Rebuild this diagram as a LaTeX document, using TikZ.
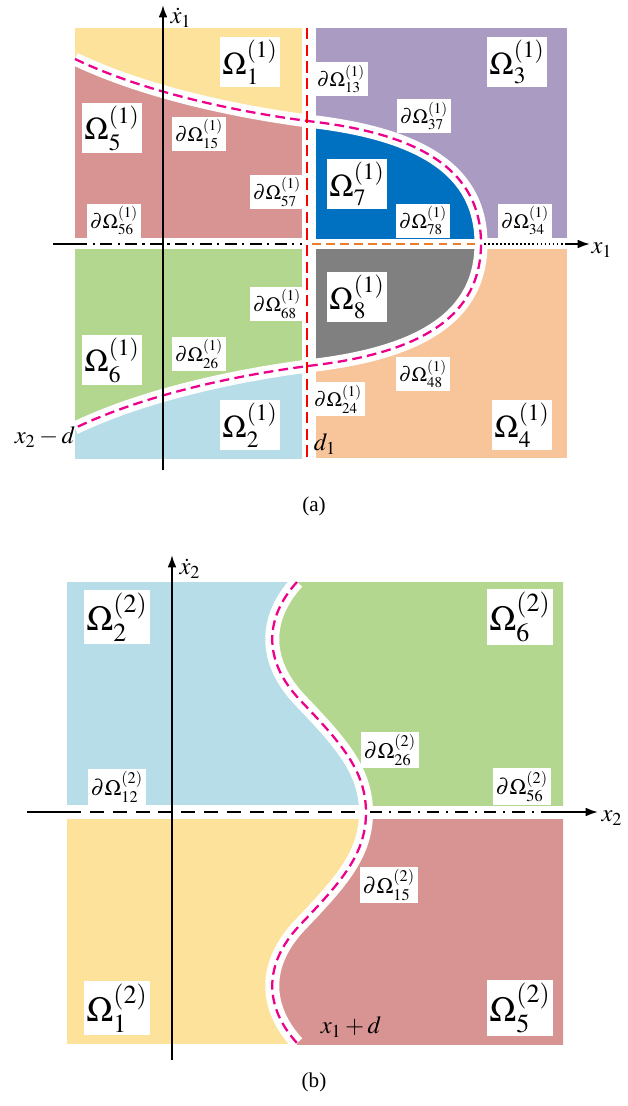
\documentclass[tikz,border=0pt]{standalone}
\usepackage{mathptmx}
\usepackage{fontspec}
\setmainfont{Liberation Serif}
\usetikzlibrary{arrows.meta}

\definecolor{omyellow}{RGB}{253,226,155}
\definecolor{omred}{RGB}{216,148,146}
\definecolor{ompurple}{RGB}{170,155,194}
\definecolor{omblue}{RGB}{0,112,192}
\definecolor{omgrey}{RGB}{128,128,128}
\definecolor{ompeach}{RGB}{248,196,154}
\definecolor{omgreen}{RGB}{179,215,143}
\definecolor{omcyan}{RGB}{183,221,232}
\definecolor{bdorange}{RGB}{235,125,45}

\begin{document}
\begin{tikzpicture}[x=0.02cm,y=-0.02cm,
  omg/.style={fill=white,inner sep=1.5pt,font=\fontsize{18}{20}\selectfont},
  omgb/.style={omg,font=\fontsize{20}{22}\selectfont},
  bdy/.style={fill=white,inner sep=1.5pt,font=\fontsize{11.5}{13}\selectfont},
  bdyb/.style={bdy,font=\fontsize{12.5}{14}\selectfont},
  band/.style={white,line width=0.26cm},
  sepline/.style={magenta,line width=1.3pt,dash pattern=on 5.5pt off 3pt},
  axis/.style={line width=1.1pt,-{Latex[length=7pt,width=5pt]}},
  axtxt/.style={font=\fontsize{14}{16}\selectfont},
  dashdot/.style={line width=1.1pt,dash pattern=on 7pt off 3pt on 1.2pt off 3pt}
]
\useasboundingbox (0,0) rectangle (628,1106);

% (a)
\fill[omred] (75,28) rectangle (302,238);
\begin{scope}
  \clip (75,28) rectangle (302,238);
  \fill[omyellow] (75,20) -- (75,59) .. controls (150,95) and (250,114) .. (316,122) -- (316,20) -- cycle;
\end{scope}
\fill[ompurple] (316,28) rectangle (567,238);
\begin{scope}
  \clip (316,28) rectangle (567,238);
  \fill[omblue] (316,122) .. controls (420,135) and (481,170) .. (481,243.5) -- (316,243.5) -- cycle;
\end{scope}
\fill[omgreen] (75,249) rectangle (302,458);
\begin{scope}
  \clip (75,249) rectangle (302,458);
  \fill[omcyan] (75,470) -- (75,428) .. controls (150,392) and (250,373) .. (316,365) -- (316,470) -- cycle;
\end{scope}
\fill[ompeach] (316,249) rectangle (567,458);
\begin{scope}
  \clip (316,249) rectangle (567,458);
  \fill[omgrey] (316,365) .. controls (420,352) and (481,317) .. (481,243.5) -- (316,243.5) -- cycle;
\end{scope}

\draw[band] (75,59) .. controls (150,95) and (250,114) .. (316,122)
  .. controls (420,135) and (481,170) .. (481,243.5)
  .. controls (481,317) and (420,352) .. (316,365)
  .. controls (250,373) and (150,392) .. (75,428);
\draw[sepline] (75,59) .. controls (150,95) and (250,114) .. (316,122)
  .. controls (420,135) and (481,170) .. (481,243.5)
  .. controls (481,317) and (420,352) .. (316,365)
  .. controls (250,373) and (150,392) .. (75,428);
\draw[red,line width=1.2pt,dash pattern=on 6.5pt off 3pt] (307,28) -- (307,458);

\draw[line width=1.1pt] (53,244) -- (75,244);
\draw[dashdot] (75,244) -- (302,244);
\draw[bdorange,line width=1.1pt,dash pattern=on 5pt off 3pt] (312,244) -- (478,244);
\draw[line width=1.1pt,dash pattern=on 1pt off 1.3pt] (484,244) -- (567,244);
\draw[axis] (567,244) -- (590,244);
\draw[axis] (163,470) -- (163,5);

\node[axtxt] (xd1) at (181,18) {$\dot{x}_1$};
\node[axtxt] (x1) at (602,250) {$x_1$};
\node[axtxt] (d1) at (325,444) {$d_1$};
\node[axtxt] (x2d) at (45,437) {$x_2-d$};

\node[omg] (o1a) at (250,62) {$\Omega_1^{(1)}$};
\node[omg] (o3a) at (517,62) {$\Omega_3^{(1)}$};
\node[omg] (o5a) at (112,128) {$\Omega_5^{(1)}$};
\node[omg] (o7a) at (357,184) {$\Omega_7^{(1)}$};
\node[omg] (o8a) at (357,297) {$\Omega_8^{(1)}$};
\node[omg] (o6a) at (112,360) {$\Omega_6^{(1)}$};
\node[omg] (o2a) at (250,425) {$\Omega_2^{(1)}$};
\node[omg] (o4a) at (522,425) {$\Omega_4^{(1)}$};

\node[bdy] (b13a) at (341,79) {$\partial\Omega_{13}^{(1)}$};
\node[bdy] (b37a) at (424,116) {$\partial\Omega_{37}^{(1)}$};
\node[bdy] (b15a) at (199,134) {$\partial\Omega_{15}^{(1)}$};
\node[bdy] (b57a) at (277,192) {$\partial\Omega_{57}^{(1)}$};
\node[bdy,anchor=south] (b56a) at (114,238) {$\partial\Omega_{56}^{(1)}$};
\node[bdy,anchor=south] (b78a) at (423,238) {$\partial\Omega_{78}^{(1)}$};
\node[bdy,anchor=south] (b34a) at (525,238) {$\partial\Omega_{34}^{(1)}$};
\node[bdy] (b68a) at (277,304) {$\partial\Omega_{68}^{(1)}$};
\node[bdy] (b26a) at (199,354) {$\partial\Omega_{26}^{(1)}$};
\node[bdy] (b48a) at (423,374) {$\partial\Omega_{48}^{(1)}$};
\node[bdy] (b24a) at (338,399) {$\partial\Omega_{24}^{(1)}$};

\node[font=\fontsize{12}{14}\selectfont] (capa) at (314,506) {(a)};

% (b)
\fill[omcyan] (67,582) rectangle (563,805);
\begin{scope}
  \clip (67,582) rectangle (563,805);
  \fill[omgreen] (297,570) -- (297,582) .. controls (265,617) and (262,660) .. (300,700)
    .. controls (340,742) and (366,770) .. (366,812.5) -- (570,812.5) -- (570,570) -- cycle;
\end{scope}
\fill[omyellow] (67,819) rectangle (563,1044);
\begin{scope}
  \clip (67,819) rectangle (563,1044);
  \fill[omred] (366,812.5) .. controls (366,855) and (340,883) .. (300,925)
    .. controls (262,965) and (265,1008) .. (297,1043) -- (297,1056) -- (570,1056) -- (570,812.5) -- cycle;
\end{scope}

\draw[band,line width=0.28cm] (297,582) .. controls (265,617) and (262,660) .. (300,700)
  .. controls (340,742) and (366,770) .. (366,812.5)
  .. controls (366,855) and (340,883) .. (300,925)
  .. controls (262,965) and (265,1008) .. (297,1043);
\draw[sepline] (297,582) .. controls (265,617) and (262,660) .. (300,700)
  .. controls (340,742) and (366,770) .. (366,812.5)
  .. controls (366,855) and (340,883) .. (300,925)
  .. controls (262,965) and (265,1008) .. (297,1043);

\draw[line width=1.1pt] (27,812) -- (67,812);
\draw[line width=1.1pt,dash pattern=on 8pt off 5pt] (67,812) -- (362,812);
\draw[dashdot,dash pattern=on 7pt off 4pt on 1.2pt off 4pt] (370,812) -- (553,812);
\draw[axis] (553,812) -- (598,812);
\draw[axis] (172,1060) -- (172,555);

\node[axtxt] (xd2) at (190,569) {$\dot{x}_2$};
\node[axtxt] (x2) at (612,818) {$x_2$};
\node[axtxt] (x1d) at (351,1027) {$x_1+d$};

\node[omgb] (o2b) at (117,617) {$\Omega_2^{(2)}$};
\node[omgb] (o6b) at (520,617) {$\Omega_6^{(2)}$};
\node[omgb] (o1b) at (117,1008) {$\Omega_1^{(2)}$};
\node[omgb] (o5b) at (520,1008) {$\Omega_5^{(2)}$};

\node[bdyb] (b26b) at (390,750) {$\partial\Omega_{26}^{(2)}$};
\node[bdyb,anchor=south] (b12b) at (117,805) {$\partial\Omega_{12}^{(2)}$};
\node[bdyb,anchor=south] (b56b) at (522,805) {$\partial\Omega_{56}^{(2)}$};
\node[bdyb] (b15b) at (389,885) {$\partial\Omega_{15}^{(2)}$};

\node[font=\fontsize{12}{14}\selectfont] (capb) at (314,1082) {(b)};
\end{tikzpicture}
\end{document}
